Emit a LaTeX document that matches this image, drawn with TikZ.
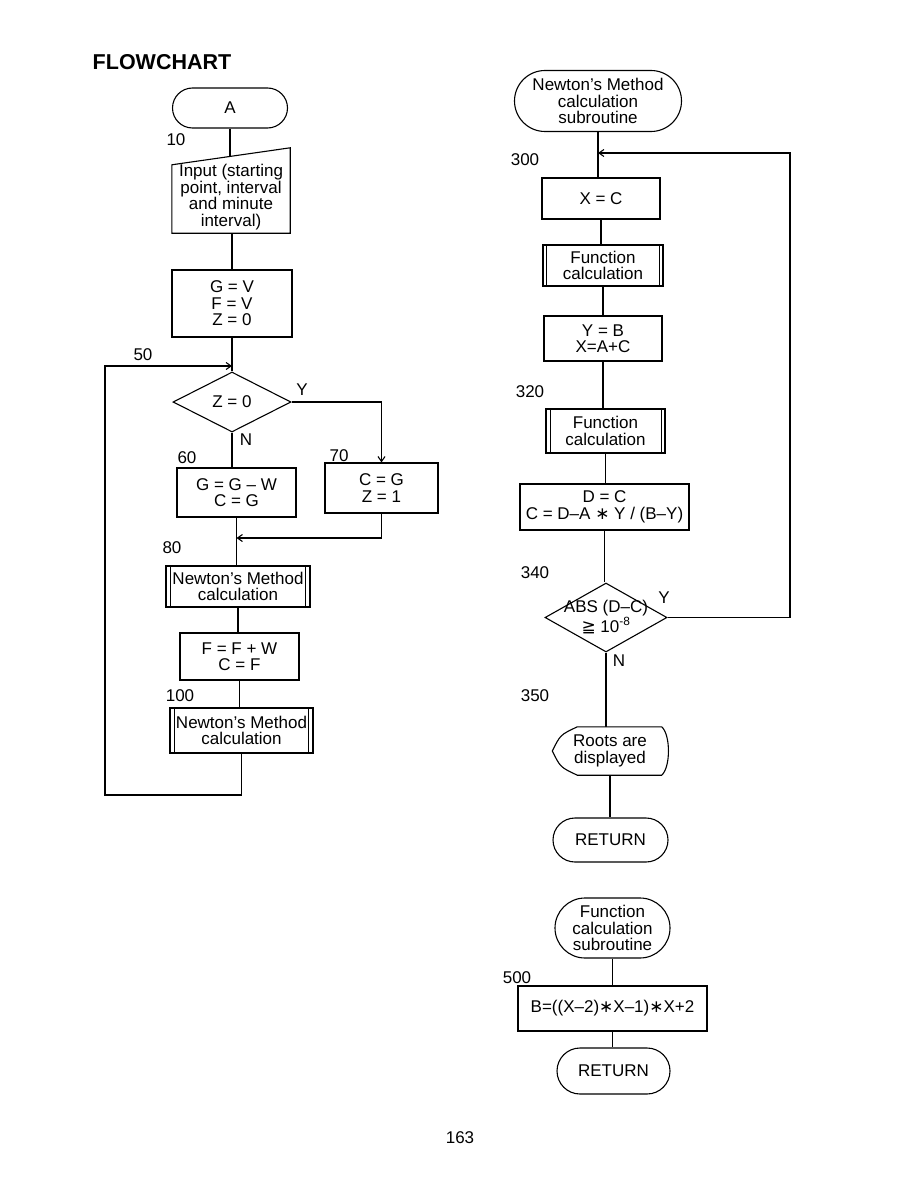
\documentclass[tikz,border=0pt]{standalone}
\usepackage{fontspec}
\setmainfont{Liberation Sans}
\newfontfamily\dejavu{DejaVu Sans}
\usetikzlibrary{shapes.geometric,shapes.misc,arrows.meta,calc}
\pgfdeclarelayer{bg}\pgfdeclarelayer{lines}\pgfdeclarelayer{shapes}
\pgfsetlayers{bg,lines,shapes,main}
\begin{document}
\begin{tikzpicture}[x=1pt,y=-1pt,
 every node/.style={font=\fontsize{17}{16.5}\selectfont, align=center, inner sep=0pt},
 ln/.style={line width=1.1pt},
 arr/.style={ln, -{Straight Barb[length=5pt,width=7pt]}},
 term/.style={rounded rectangle, draw, ln, fill=white},
 proc/.style={rectangle, draw, ln, fill=white},
 dec/.style={diamond, draw, ln, fill=white},
 txt/.style={rectangle}]
\begin{pgfonlayer}{bg}
\fill[white] (0,0) rectangle (918,1188);
\end{pgfonlayer}
\useasboundingbox (0,0) rectangle (918,1188);

% ---------- title ----------
\node[font=\fontsize{21.5}{24}\bfseries\selectfont] (title) at (162,62) {FLOWCHART};

% ---------- left chart ----------
\node[term, minimum width=115pt, minimum height=40pt] (A) at (230,108) {A};
\node (l10) at (176,140) {10};
\node[txt, minimum width=118pt, minimum height=72pt] (inp) at (231,197) {Input (starting\\point, interval\\and minute\\interval)};
\begin{pgfonlayer}{shapes}
\draw[ln, fill=white] (inp.south west) -- ([yshift=-4pt]inp.north west) -- ([yshift=13pt]inp.north east) -- (inp.south east) -- cycle;
\end{pgfonlayer}
\node[proc, minimum width=120pt, minimum height=67pt] (gv) at (232,303.5) {G = V\\F = V\\Z = 0};
\node (l50) at (143,355) {50};
\node[dec, minimum width=118pt, minimum height=60pt] (d1) at (232,402) {Z = 0};
\node (y1) at (302,390) {Y};
\node (n1) at (246,440) {N};
\node (l60) at (187,458) {60};
\node[proc, minimum width=119pt, minimum height=49pt] (b60) at (236.5,492.5) {G = G -- W\\C = G};
\node (l70) at (339,456) {70};
\node[proc, minimum width=113pt, minimum height=50pt] (b70) at (381.5,488) {C = G\\Z = 1};
\node (l80) at (172,548) {80};
\node[proc, minimum width=144pt, minimum height=41pt] (n80) at (238,586.5) {Newton's Method\\calculation};
\draw[ln] ([xshift=5pt]n80.north west) -- ([xshift=5pt]n80.south west);
\draw[ln] ([xshift=-5pt]n80.north east) -- ([xshift=-5pt]n80.south east);
\node[proc, minimum width=119pt, minimum height=47pt] (bf) at (239.5,656.5) {F = F + W\\C = F};
\node (l100) at (180,696) {100};
\node[proc, minimum width=143pt, minimum height=45pt] (n100) at (241.5,730.5) {Newton's Method\\calculation};
\draw[ln] ([xshift=5pt]n100.north west) -- ([xshift=5pt]n100.south west);
\draw[ln] ([xshift=-5pt]n100.north east) -- ([xshift=-5pt]n100.south east);

\coordinate (m50) at (232,366);
\coordinate (loopbl) at (105,795);
\coordinate (m80) at (236.5,538);

\begin{pgfonlayer}{lines}
\draw[ln] (A.south) -- (A.south |- inp.center);
\draw[ln] (gv.north |- inp.south) -- (gv.north);
\draw[ln] (gv.south) -- (d1.north);
\draw[ln] (d1.south) -- (d1.south |- b60.north);
\draw[arr] (d1.east) -| (b70.north);
\draw[ln] (b60.south) -- (b60.south |- n80.north);
\draw[arr] (b70.south) |- (m80);
\draw[ln] (n80.south) -- (n80.south |- bf.north);
\draw[ln] (bf.south) -- (bf.south |- n100.north);
\draw[arr] (n100.south) |- (loopbl) |- (m50);
\end{pgfonlayer}

% ---------- right chart ----------
\node[term, minimum width=167pt, minimum height=61pt] (t2) at (598,101) {Newton's Method\\calculation\\subroutine};
\node (l300) at (525,160) {300};
\node[proc, minimum width=118pt, minimum height=41pt] (xc) at (601,198.5) {X = C};
\node[proc, minimum width=120pt, minimum height=41pt] (fn1) at (603,265.5) {Function\\calculation};
\draw[ln] ([xshift=4pt]fn1.north west) -- ([xshift=4pt]fn1.south west);
\draw[ln] ([xshift=-4pt]fn1.north east) -- ([xshift=-4pt]fn1.south east);
\node[proc, minimum width=118pt, minimum height=45pt] (yb) at (603,338.5) {Y = B\\X=A+C};
\node (l320) at (530,392) {320};
\node[proc, minimum width=119pt, minimum height=44pt] (fn2) at (605.5,431) {Function\\calculation};
\draw[ln] ([xshift=5pt]fn2.north west) -- ([xshift=5pt]fn2.south west);
\draw[ln] ([xshift=-4pt]fn2.north east) -- ([xshift=-4pt]fn2.south east);
\node[proc, minimum width=169pt, minimum height=46pt] (dc) at (604.5,507) {D = C\\C = D--A {\dejavu ∗} Y / (B--Y)};
\node (l340) at (535,573) {340};
\node[dec, minimum width=122pt, minimum height=69pt] (d2) at (606,617.5) {};
\node (d2t) at (606,617) {ABS (D--C)\\{\dejavu ≧} 10\textsuperscript{-8}};
\node (y2) at (664,598) {Y};
\node (n2) at (619,661) {N};
\node (l350) at (535,696) {350};
\node[txt, minimum width=115pt, minimum height=48pt] (dsp) at (610,751) {Roots are\\displayed};
\begin{pgfonlayer}{shapes}
\draw[ln, fill=white] (dsp.west) .. controls ([xshift=8pt,yshift=-8pt]dsp.north west) .. ([xshift=25pt]dsp.north west) -- ([xshift=-6pt]dsp.north east) .. controls ([xshift=3pt,yshift=-8pt]dsp.north east) and ([xshift=3pt,yshift=8pt]dsp.south east) .. ([xshift=-6pt]dsp.south east) -- ([xshift=25pt]dsp.south west) .. controls ([xshift=8pt,yshift=8pt]dsp.south west) .. (dsp.west) -- cycle;
\end{pgfonlayer}
\node[term, minimum width=115pt, minimum height=44pt] (ret1) at (610.5,840) {RETURN};

\node[term, minimum width=115pt, minimum height=60pt] (t3) at (612.5,928) {Function\\calculation\\subroutine};
\node (l500) at (517,978) {500};
\node[proc, minimum width=189pt, minimum height=45pt] (bb) at (612.5,1008.5) {B=((X--2){\dejavu ∗}X--1){\dejavu ∗}X+2};
\node[term, minimum width=113pt, minimum height=46pt] (ret2) at (613.5,1071) {RETURN};

\node (page) at (460,1138) {163};

\coordinate (rtop) at (790,153);
\coordinate (m300) at (598,153);

\begin{pgfonlayer}{lines}
\draw[ln] (t2.south) -- (t2.south |- xc.north);
\draw[arr] (d2.east) -| (rtop) -- (m300);
\draw[ln] (xc.south) -- (xc.south |- fn1.north);
\draw[ln] (fn1.south) -- (fn1.south |- yb.north);
\draw[ln] (yb.south) -- (yb.south |- fn2.north);
\draw[ln] (fn2.south) -- (fn2.south |- dc.north);
\draw[ln] (dc.south) -- (dc.south |- d2.north);
\draw[ln] (d2.south) -- (d2.south |- dsp.center);
\draw[ln] (dsp.south) -- (dsp.south |- ret1.north);
\draw[ln] (t3.south) -- (t3.south |- bb.north);
\draw[ln] (bb.south) -- (bb.south |- ret2.north);
\end{pgfonlayer}
\end{tikzpicture}
\end{document}
